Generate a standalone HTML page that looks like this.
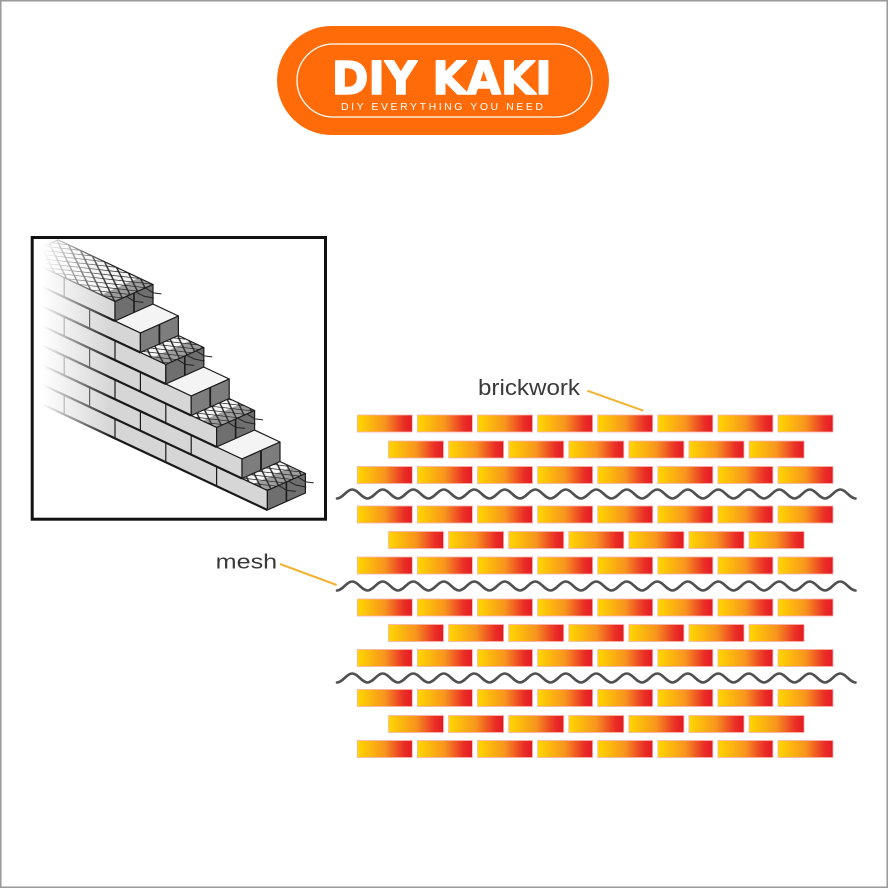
<!DOCTYPE html>
<html>
<head>
<meta charset="utf-8">
<style>
html,body{margin:0;padding:0;background:#fff;}
svg{display:block;}
</style>
</head>
<body>
<svg width="888" height="888" viewBox="0 0 888 888" xmlns="http://www.w3.org/2000/svg">
<defs>
  <linearGradient id="brick" x1="0" y1="0" x2="1" y2="0">
    <stop offset="0" stop-color="#ffd700"/>
    <stop offset="0.5" stop-color="#f7941e"/>
    <stop offset="0.85" stop-color="#ea2d27"/>
    <stop offset="1" stop-color="#e31b23"/>
  </linearGradient>
  <linearGradient id="fade" x1="0" y1="0" x2="1" y2="0">
    <stop offset="0" stop-color="#fff" stop-opacity="1"/>
    <stop offset="0.12" stop-color="#fff" stop-opacity="1"/>
    <stop offset="1" stop-color="#fff" stop-opacity="0"/>
  </linearGradient>
  <pattern id="mesh" patternUnits="userSpaceOnUse" width="12" height="6.9" patternTransform="matrix(1,0.47,1.1,-0.493,0,0)">
    <path d="M0,3.45 L6,0 L12,3.45 L6,6.9 Z" fill="none" stroke="#1e1e1e" stroke-width="1"/>
  </pattern>
  <clipPath id="boxclip"><rect x="33.5" y="239" width="291" height="279"/></clipPath>
  <g id="wide">
    <rect x="357.3" y="0" width="55" height="17" fill="url(#brick)" stroke="#f7b3ad" stroke-width="0.8"/>
    <rect x="417.4" y="0" width="55" height="17" fill="url(#brick)" stroke="#f7b3ad" stroke-width="0.8"/>
    <rect x="477.5" y="0" width="55" height="17" fill="url(#brick)" stroke="#f7b3ad" stroke-width="0.8"/>
    <rect x="537.6" y="0" width="55" height="17" fill="url(#brick)" stroke="#f7b3ad" stroke-width="0.8"/>
    <rect x="597.7" y="0" width="55" height="17" fill="url(#brick)" stroke="#f7b3ad" stroke-width="0.8"/>
    <rect x="657.8" y="0" width="55" height="17" fill="url(#brick)" stroke="#f7b3ad" stroke-width="0.8"/>
    <rect x="717.9" y="0" width="55" height="17" fill="url(#brick)" stroke="#f7b3ad" stroke-width="0.8"/>
    <rect x="778.0" y="0" width="55" height="17" fill="url(#brick)" stroke="#f7b3ad" stroke-width="0.8"/>
  </g>
  <g id="narrow">
    <rect x="388.5" y="0" width="55" height="17" fill="url(#brick)" stroke="#f7b3ad" stroke-width="0.8"/>
    <rect x="448.6" y="0" width="55" height="17" fill="url(#brick)" stroke="#f7b3ad" stroke-width="0.8"/>
    <rect x="508.7" y="0" width="55" height="17" fill="url(#brick)" stroke="#f7b3ad" stroke-width="0.8"/>
    <rect x="568.8" y="0" width="55" height="17" fill="url(#brick)" stroke="#f7b3ad" stroke-width="0.8"/>
    <rect x="628.9" y="0" width="55" height="17" fill="url(#brick)" stroke="#f7b3ad" stroke-width="0.8"/>
    <rect x="689.0" y="0" width="55" height="17" fill="url(#brick)" stroke="#f7b3ad" stroke-width="0.8"/>
    <rect x="749.1" y="0" width="55" height="17" fill="url(#brick)" stroke="#f7b3ad" stroke-width="0.8"/>
  </g>
  <path id="wave" d="M337,4.5 c5.55,0 9.7,-9 15.25,-9 s9.7,9 15.25,9 s9.7,-9 15.25,-9 s9.7,9 15.25,9 s9.7,-9 15.25,-9 s9.7,9 15.25,9 s9.7,-9 15.25,-9 s9.7,9 15.25,9 s9.7,-9 15.25,-9 s9.7,9 15.25,9 s9.7,-9 15.25,-9 s9.7,9 15.25,9 s9.7,-9 15.25,-9 s9.7,9 15.25,9 s9.7,-9 15.25,-9 s9.7,9 15.25,9 s9.7,-9 15.25,-9 s9.7,9 15.25,9 s9.7,-9 15.25,-9 s9.7,9 15.25,9 s9.7,-9 15.25,-9 s9.7,9 15.25,9 s9.7,-9 15.25,-9 s9.7,9 15.25,9 s9.7,-9 15.25,-9 s9.7,9 15.25,9 s9.7,-9 15.25,-9 s9.7,9 15.25,9 s9.7,-9 15.25,-9 s9.7,9 15.25,9 s9.7,-9 15.25,-9 s9.7,9 15.25,9 s9.7,-9 15.25,-9 s9.7,9 15.25,9" fill="none" stroke="#505050" stroke-width="2.6" stroke-linecap="round"/>
</defs>

<!-- page border -->
<rect x="0.75" y="0.75" width="886.5" height="886.5" fill="none" stroke="#9a9a9a" stroke-width="1.5"/>

<!-- Logo -->
<rect x="277" y="26" width="332" height="109" rx="54.5" ry="54.5" fill="#ff6b08"/>
<rect x="297" y="44" width="295" height="73" rx="36.5" ry="36.5" fill="none" stroke="#ffffff" stroke-width="1.3"/>
<text x="331.7" y="94" textLength="220" lengthAdjust="spacingAndGlyphs" font-family="'DejaVu Sans', 'Liberation Sans', sans-serif" font-weight="bold" font-size="45" fill="#ffffff" stroke="#ffffff" stroke-width="1.5" stroke-linejoin="round">DIY KAKI</text>
<text x="341" y="110" textLength="202" lengthAdjust="spacing" font-family="'Liberation Sans', sans-serif" font-size="10.5" fill="#ffffff">DIY EVERYTHING YOU NEED</text>

<!-- Isometric drawing box -->
<rect x="32.2" y="237.5" width="293.3" height="281.7" fill="#ffffff"/>
<g clip-path="url(#boxclip)" stroke="#1a1a1a" stroke-width="1.2" stroke-linejoin="round">
  <!-- k7 (mesh) -->
  <polygon points="267.4,490.5 305.4,473.5 58,357.22 20,374.22" fill="#f4f4f4"/>
  <polygon points="267.4,490.5 305.4,473.5 58,357.22 20,374.22" fill="url(#mesh)" stroke="none"/>
  <polygon points="267.4,490.5 305.4,473.5 291.4,466.9 253.4,483.9" fill="#333" fill-opacity="0.45" stroke="none"/>
  <polygon points="267.4,510 267.4,490.5 20,374.22 20,393.72" fill="#d6d6d6"/>
  <line x1="20" y1="393.72" x2="267.4" y2="510" stroke-width="2.2"/>
  <line x1="216.6" y1="486.1" x2="216.6" y2="466.6"/>
  <line x1="165.8" y1="462.2" x2="165.8" y2="442.7"/>
  <line x1="115" y1="438.3" x2="115" y2="418.8"/>
  <line x1="64.2" y1="414.4" x2="64.2" y2="394.9"/>
  <polygon points="267.4,510 267.4,490.5 305.4,473.5 305.4,493" fill="#6f6f6f"/>
  <line x1="286.4" y1="501.5" x2="286.4" y2="482" stroke-width="1.6"/>
  <path d="M278.8,485.4 l8,5 l9,1 M288.3,481.15 l8,4 l10,2 M297.8,476.9 l8,5 l8,1" fill="none" stroke="#222" stroke-width="1"/>

  <!-- k6 (plain) -->
  <polygon points="242,459 280,442 58,337.66 20,354.66" fill="#f4f4f4"/>
  <polygon points="242,478.5 242,459 20,354.66 20,374.16" fill="#d6d6d6"/>
  <line x1="20" y1="374.16" x2="242" y2="478.5" stroke-width="2.2"/>
  <line x1="191.2" y1="454.6" x2="191.2" y2="435.1"/>
  <line x1="140.4" y1="430.7" x2="140.4" y2="411.2"/>
  <line x1="89.6" y1="406.8" x2="89.6" y2="387.3"/>
  <line x1="38.8" y1="382.9" x2="38.8" y2="363.4"/>
  <polygon points="242,478.5 242,459 280,442 280,461.5" fill="#7d7d7d"/>
  <line x1="261" y1="470" x2="261" y2="450.5" stroke-width="1.8"/>

  <!-- k5 (mesh) -->
  <polygon points="216.6,427.5 254.6,410.5 58,318.1 20,335.1" fill="#f4f4f4"/>
  <polygon points="216.6,427.5 254.6,410.5 58,318.1 20,335.1" fill="url(#mesh)" stroke="none"/>
  <polygon points="216.6,427.5 254.6,410.5 240.6,403.9 202.6,420.9" fill="#333" fill-opacity="0.45" stroke="none"/>
  <polygon points="216.6,447 216.6,427.5 20,335.1 20,354.6" fill="#d6d6d6"/>
  <line x1="20" y1="354.6" x2="216.6" y2="447" stroke-width="2.2"/>
  <line x1="165.8" y1="423.1" x2="165.8" y2="403.6"/>
  <line x1="115" y1="399.2" x2="115" y2="379.7"/>
  <line x1="64.2" y1="375.3" x2="64.2" y2="355.8"/>
  <polygon points="216.6,447 216.6,427.5 254.6,410.5 254.6,430" fill="#6f6f6f"/>
  <line x1="235.6" y1="438.5" x2="235.6" y2="419" stroke-width="1.6"/>
  <path d="M228,422.4 l8,5 l9,1 M237.5,418.15 l8,4 l10,2 M247,413.9 l8,5 l8,1" fill="none" stroke="#222" stroke-width="1"/>

  <!-- k4 (plain) -->
  <polygon points="191.2,396 229.2,379 58,298.54 20,315.54" fill="#f4f4f4"/>
  <polygon points="191.2,415.5 191.2,396 20,315.54 20,335.04" fill="#d6d6d6"/>
  <line x1="20" y1="335.04" x2="191.2" y2="415.5" stroke-width="2.2"/>
  <line x1="140.4" y1="391.6" x2="140.4" y2="372.1"/>
  <line x1="89.6" y1="367.7" x2="89.6" y2="348.2"/>
  <line x1="38.8" y1="343.8" x2="38.8" y2="324.3"/>
  <polygon points="191.2,415.5 191.2,396 229.2,379 229.2,398.5" fill="#7d7d7d"/>
  <line x1="210.2" y1="407" x2="210.2" y2="387.5" stroke-width="1.8"/>

  <!-- k3 (mesh) -->
  <polygon points="165.8,364.5 203.8,347.5 58,278.97 20,295.97" fill="#f4f4f4"/>
  <polygon points="165.8,364.5 203.8,347.5 58,278.97 20,295.97" fill="url(#mesh)" stroke="none"/>
  <polygon points="165.8,364.5 203.8,347.5 189.8,340.9 151.8,357.9" fill="#333" fill-opacity="0.45" stroke="none"/>
  <polygon points="165.8,384 165.8,364.5 20,295.97 20,315.47" fill="#d6d6d6"/>
  <line x1="20" y1="315.47" x2="165.8" y2="384" stroke-width="2.2"/>
  <line x1="115" y1="360.1" x2="115" y2="340.6"/>
  <line x1="64.2" y1="336.2" x2="64.2" y2="316.7"/>
  <polygon points="165.8,384 165.8,364.5 203.8,347.5 203.8,367" fill="#6f6f6f"/>
  <line x1="184.8" y1="375.5" x2="184.8" y2="356" stroke-width="1.6"/>
  <path d="M177.2,359.4 l8,5 l9,1 M186.7,355.15 l8,4 l10,2 M196.2,350.9 l8,5 l8,1" fill="none" stroke="#222" stroke-width="1"/>

  <!-- k2 (plain) -->
  <polygon points="140.4,333 178.4,316 58,259.41 20,276.41" fill="#f4f4f4"/>
  <polygon points="140.4,352.5 140.4,333 20,276.41 20,295.91" fill="#d6d6d6"/>
  <line x1="20" y1="295.91" x2="140.4" y2="352.5" stroke-width="2.2"/>
  <line x1="89.6" y1="328.6" x2="89.6" y2="309.1"/>
  <line x1="38.8" y1="304.7" x2="38.8" y2="285.2"/>
  <polygon points="140.4,352.5 140.4,333 178.4,316 178.4,335.5" fill="#7d7d7d"/>
  <line x1="159.4" y1="344" x2="159.4" y2="324.5" stroke-width="1.8"/>

  <!-- k1 (mesh, top) -->
  <polygon points="115,301.5 153,284.5 58,239.85 20,256.85" fill="#f4f4f4"/>
  <polygon points="115,301.5 153,284.5 58,239.85 20,256.85" fill="url(#mesh)" stroke="none"/>
  <polygon points="115,301.5 153,284.5 139,277.9 101,294.9" fill="#333" fill-opacity="0.45" stroke="none"/>
  <polygon points="115,321 115,301.5 20,256.85 20,276.35" fill="#d6d6d6"/>
  <line x1="20" y1="276.35" x2="115" y2="321" stroke-width="2.2"/>
  <line x1="64.2" y1="297.1" x2="64.2" y2="277.6"/>
  <polygon points="115,321 115,301.5 153,284.5 153,304" fill="#6f6f6f"/>
  <line x1="134" y1="312.5" x2="134" y2="293" stroke-width="1.6"/>
  <path d="M126.4,296.4 l8,5 l9,1 M135.9,292.15 l8,4 l10,2 M145.4,287.9 l8,5 l8,1" fill="none" stroke="#222" stroke-width="1"/>

  <!-- fade -->
  <rect x="33" y="238" width="78" height="282" fill="url(#fade)" stroke="none"/>
</g>
<rect x="32.2" y="237.5" width="293.3" height="281.7" fill="none" stroke="#111" stroke-width="3"/>

<!-- Brick grid -->
<use href="#wide" y="415"/>
<use href="#narrow" y="441"/>
<use href="#wide" y="466.5"/>
<use href="#wide" y="506"/>
<use href="#narrow" y="531.5"/>
<use href="#wide" y="557"/>
<use href="#wide" y="599"/>
<use href="#narrow" y="624.5"/>
<use href="#wide" y="649.5"/>
<use href="#wide" y="689.5"/>
<use href="#narrow" y="715.5"/>
<use href="#wide" y="740.5"/>

<!-- Waves (mesh) -->
<use href="#wave" y="494"/>
<use href="#wave" y="586"/>
<use href="#wave" y="678"/>

<!-- Labels -->
<text x="478" y="395" textLength="102" lengthAdjust="spacingAndGlyphs" font-family="'Liberation Sans', Arial, sans-serif" font-size="22" fill="#3a3a3a">brickwork</text>
<line x1="587.3" y1="390.7" x2="643.3" y2="410.7" stroke="#f2b233" stroke-width="2"/>
<text x="215.7" y="568.3" textLength="61.5" lengthAdjust="spacingAndGlyphs" font-family="'Liberation Sans', Arial, sans-serif" font-size="20.5" fill="#3a3a3a">mesh</text>
<line x1="280" y1="564" x2="336.7" y2="585" stroke="#f2b233" stroke-width="2"/>
</svg>
</body>
</html>
